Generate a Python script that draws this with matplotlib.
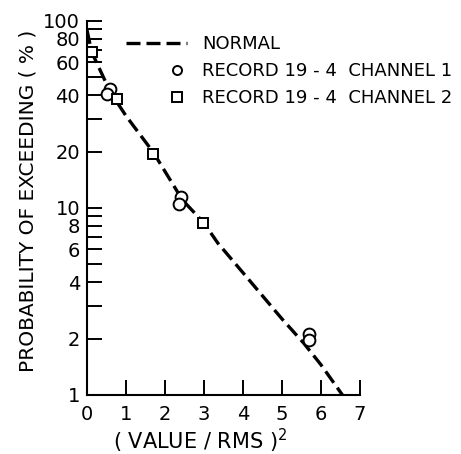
import numpy as np
import matplotlib
matplotlib.use("Agg")
import matplotlib.pyplot as plt
import matplotlib.ticker as ticker
from matplotlib.legend_handler import HandlerLine2D

# --- data ---
normal_x = [0.0, 0.12, 0.6, 1.0, 1.7, 2.45, 3.0, 3.35, 4.0, 5.0, 5.55, 6.0, 6.55]
normal_y = [89, 68, 41.5, 31, 19.8, 11.0, 8.3, 6.5, 4.5, 2.55, 1.9, 1.45, 1.0]

ch1_x = [0.59, 0.5, 2.41, 2.37, 5.7, 5.7]
ch1_y = [43, 40.5, 11.4, 10.5, 2.13, 1.96]

ch2_x = [0.12, 0.76, 1.7, 2.98]
ch2_y = [68, 38, 19.5, 8.3]

major_y = [1, 2, 4, 6, 8, 10, 20, 40, 60, 80, 100]
minor_y = [3, 5, 7, 9, 30, 50, 70, 90]
x_ticks = [0, 1, 2, 3, 4, 5, 6, 7]


class RightMarker(HandlerLine2D):
    """Legend handler that puts the single marker near the right end."""
    def get_xdata(self, legend, xdescent, ydescent, width, height, fontsize):
        m = -xdescent + 0.83 * width
        xdata = np.array([m - 1.0, m + 1.0])
        return xdata, np.array([m])


plt.rcParams['font.family'] = 'DejaVu Sans'
plt.rcParams['font.size'] = 13

fig = plt.figure(figsize=(4.61, 4.54), dpi=100)
ax = fig.add_axes([87 / 461, 59 / 454, 273 / 461, 374.3 / 454])

ax.plot(normal_x, normal_y, color='black', lw=2.4, ls=(0, (4.2, 1.8)),
        label='NORMAL', solid_capstyle='butt', dash_capstyle='butt')
ax.plot(ch1_x, ch1_y, ls='none', marker='o', ms=8.5, mfc='white',
        mec='black', mew=1.4, label='RECORD 19 - 4  CHANNEL 1')
ax.plot(ch2_x, ch2_y, ls='none', marker='s', ms=6.5, mfc='white',
        mec='black', mew=1.4, label='RECORD 19 - 4  CHANNEL 2')

ax.set_yscale('log')
ax.set_ylim(1, 100)
ax.set_xlim(0, 7)

ax.yaxis.set_major_locator(ticker.FixedLocator(major_y))
ax.yaxis.set_major_formatter(ticker.FixedFormatter([str(v) for v in major_y]))
ax.yaxis.set_minor_locator(ticker.FixedLocator(minor_y))
ax.yaxis.set_minor_formatter(ticker.NullFormatter())
ax.set_xticks(x_ticks)
ax.set_xticklabels([str(v) for v in x_ticks])

for side in ['top', 'right']:
    ax.spines[side].set_visible(False)
for side in ['left', 'bottom']:
    ax.spines[side].set_linewidth(1.5)

ax.tick_params(axis='both', which='both', direction='in', length=11,
               width=1.4, labelsize=14)
ax.tick_params(axis='y', which='both', pad=5)
ax.tick_params(axis='x', which='both', pad=7)

ax.set_ylabel('PROBABILITY OF EXCEEDING ( % )', fontsize=14.5)
ax.yaxis.set_label_coords(-0.18, 0.518)
ax.set_xlabel('( VALUE / RMS )$^{2}$', fontsize=15)
ax.xaxis.set_label_coords(0.414, -0.085)

handles, labels = ax.get_legend_handles_labels()
leg = ax.legend(handles, labels, loc='upper left', bbox_to_anchor=(0.115, 0.98),
                frameon=False, handlelength=3.4, handletextpad=0.85,
                labelspacing=0.5, borderaxespad=0, numpoints=1,
                handler_map={handles[1]: RightMarker(), handles[2]: RightMarker()})
for h in leg.legend_handles[1:]:
    h.set_markersize(6.5)

fig.savefig('out.png', dpi=100)
